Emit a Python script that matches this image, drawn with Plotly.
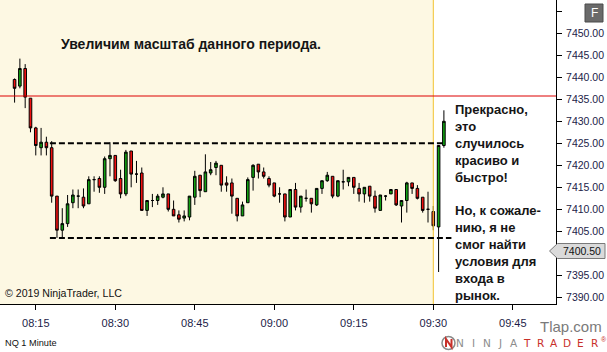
import plotly.graph_objects as go
import pandas as pd

# ---------------- data (NQ 1 Minute) ----------------
times = pd.date_range("2019-03-01 08:11", periods=82, freq="1min")

opens = [7439.5, 7438.0, 7442.0, 7435.25, 7428.5, 7424.0, 7425.25, 7424.0, 7413.0, 7405.25,
         7406.75, 7411.5, 7413.0, 7412.75, 7411.25, 7416.75, 7417.0, 7415.0, 7421.5, 7422.25,
         7417.0, 7413.5, 7423.25, 7418.0, 7418.25, 7409.75, 7412.0, 7412.0, 7412.75, 7413.5,
         7410.0, 7408.75, 7408.0, 7408.25, 7412.75, 7417.75, 7414.0, 7418.25, 7419.5, 7420.0,
         7416.0, 7416.0, 7412.5, 7408.5, 7411.5, 7417.25, 7420.25, 7418.5, 7417.0, 7416.0,
         7413.5, 7413.5, 7408.25, 7414.5, 7410.5, 7412.5, 7412.5, 7411.0, 7414.75, 7416.5,
         7417.5, 7413.0, 7416.25, 7416.25, 7417.25, 7414.75, 7413.5, 7415.25, 7413.0, 7409.75,
         7413.0, 7413.5, 7414.5, 7410.75, 7412.0, 7416.0, 7414.75, 7412.75, 7410.0, 7409.5,
         7406.0, 7424.5]
highs = [7439.75, 7444.25, 7443.0, 7435.25, 7428.75, 7428.5, 7426.5, 7425.5, 7413.0, 7410.25,
         7413.25, 7414.5, 7414.5, 7414.75, 7417.5, 7417.5, 7417.5, 7422.0, 7425.25, 7422.25,
         7419.0, 7423.5, 7423.25, 7421.0, 7419.5, 7412.0, 7413.5, 7413.5, 7415.0, 7413.5,
         7412.0, 7409.75, 7409.75, 7413.0, 7418.75, 7417.75, 7422.5, 7420.75, 7421.0, 7420.0,
         7417.5, 7417.0, 7412.5, 7411.75, 7417.25, 7420.25, 7420.25, 7419.5, 7417.5, 7416.0,
         7415.0, 7413.5, 7414.5, 7416.0, 7413.0, 7414.5, 7412.5, 7414.75, 7416.5, 7418.5,
         7417.5, 7416.5, 7419.0, 7417.25, 7417.25, 7416.0, 7415.0, 7415.25, 7414.25, 7413.25,
         7413.25, 7414.5, 7414.5, 7412.0, 7416.25, 7416.0, 7415.5, 7412.75, 7414.0, 7410.75,
         7424.5, 7432.5]
lows = [7434.25, 7437.5, 7433.0, 7427.5, 7422.25, 7422.25, 7422.25, 7411.5, 7403.5, 7403.5,
        7406.0, 7410.25, 7410.25, 7410.25, 7411.25, 7414.0, 7413.75, 7413.5, 7417.5, 7416.25,
        7412.5, 7413.0, 7415.0, 7416.0, 7409.75, 7408.5, 7410.5, 7411.0, 7412.5, 7409.5,
        7408.5, 7407.0, 7407.25, 7407.5, 7411.0, 7412.75, 7414.0, 7417.75, 7417.75, 7414.0,
        7414.0, 7409.0, 7407.25, 7408.5, 7411.5, 7414.25, 7417.0, 7417.0, 7415.0, 7412.75,
        7411.5, 7407.25, 7408.25, 7409.75, 7409.25, 7411.75, 7409.25, 7410.75, 7413.5, 7416.25,
        7412.5, 7412.75, 7414.5, 7415.25, 7413.5, 7411.75, 7411.5, 7411.75, 7409.25, 7409.75,
        7412.0, 7413.5, 7410.75, 7407.0, 7409.25, 7413.5, 7412.25, 7409.25, 7407.0, 7405.25,
        7395.75, 7424.0]
closes = [7437.5, 7442.0, 7435.5, 7428.5, 7424.5, 7425.25, 7424.0, 7413.0, 7405.25, 7406.75,
          7411.25, 7413.25, 7413.0, 7410.75, 7416.75, 7416.75, 7415.0, 7421.5, 7422.25, 7416.5,
          7413.5, 7423.0, 7418.0, 7418.0, 7409.75, 7412.0, 7412.0, 7413.0, 7413.5, 7410.0,
          7408.5, 7407.75, 7408.5, 7413.0, 7417.5, 7414.25, 7418.5, 7419.0, 7420.5, 7415.5,
          7415.5, 7413.0, 7408.5, 7411.0, 7416.75, 7420.0, 7418.5, 7417.5, 7415.5, 7413.0,
          7413.5, 7408.25, 7414.5, 7410.5, 7413.0, 7412.5, 7411.25, 7414.75, 7416.5, 7417.75,
          7413.0, 7416.5, 7416.25, 7417.25, 7415.0, 7413.5, 7415.0, 7413.0, 7410.25, 7413.25,
          7413.0, 7414.5, 7411.0, 7412.0, 7416.0, 7414.75, 7412.5, 7409.75, 7410.0, 7406.25,
          7424.5, 7430.0]

y_ticks = [7390, 7395, 7400, 7405, 7410, 7415, 7420, 7425, 7430, 7435, 7440, 7445, 7450, 7455]
y_tick_text = ["" if v in (7400, 7455) else f"{v:.2f}" for v in y_ticks]

range_high = 7425.0
range_low = 7403.5
red_level = 7435.75
last_price_label = 7400.50

title_text = "Увеличим масштаб данного периода."
side_text_1 = "Прекрасно,<br>это<br>случилось<br>красиво и<br>быстро!"
side_text_2 = "Но, к сожале-<br>нию, я не<br>смог найти<br>условия для<br>входа в<br>рынок."
copyright_text = "© 2019 NinjaTrader, LLC"
instrument_text = "NQ 1 Minute"

# ---------------- geometry helpers ----------------
W, H = 607, 352
PL, PR, PT, PB = 0, 556, 0, 304  # plot area in pixels


def px(x):
    return (x - PL) / (PR - PL)


def py(y):
    return 1 - (y - PT) / (PB - PT)


FONT = "Liberation Sans, Arial, sans-serif"
AXCOL = "#1c1c48"

fig = go.Figure()
fig.add_trace(go.Candlestick(
    x=times, open=opens, high=highs, low=lows, close=closes,
    increasing=dict(fillcolor="#12a012", line=dict(color="#000000", width=1)),
    decreasing=dict(fillcolor="#f01010", line=dict(color="#000000", width=1)),
    whiskerwidth=0, hoverinfo="skip", showlegend=False,
))

shapes = []
shapes.append(dict(type="rect", xref="paper", yref="paper", x0=px(433.3), x1=1, y0=0, y1=1,
                   fillcolor="white", line=dict(width=0), layer="below"))
shapes.append(dict(type="line", xref="x", yref="paper", x0="2019-03-01 09:30", x1="2019-03-01 09:30",
                   y0=0, y1=1, line=dict(color="#f2c230", width=1)))
shapes.append(dict(type="line", xref="paper", yref="y", x0=0, x1=1, y0=red_level, y1=red_level,
                   line=dict(color="#dd0000", width=1)))
shapes.append(dict(type="line", xref="x", yref="y", x0="2019-03-01 08:17:40", x1="2019-03-01 09:31:45",
                   y0=range_high, y1=range_high, line=dict(color="#000000", width=2, dash="6px,3px")))
shapes.append(dict(type="line", xref="x", yref="y", x0="2019-03-01 08:17:40", x1="2019-03-01 09:33:25",
                   y0=range_low, y1=range_low, line=dict(color="#000000", width=2, dash="6px,3px")))
yl = 251.0
path = (f"M {px(549.5)} {py(yl)} L {px(557.5)} {py(yl-7.5)} L {px(605)} {py(yl-7.5)} "
        f"L {px(605)} {py(yl+7.5)} L {px(557.5)} {py(yl+7.5)} Z")
shapes.append(dict(type="path", xref="paper", yref="paper", path=path,
                   fillcolor="#dadada", line=dict(color="#7a7a7a", width=1)))
shapes.append(dict(type="rect", xref="paper", yref="paper", x0=px(585), x1=px(603), y0=py(22), y1=py(4),
                   fillcolor="#6a6a6a", line=dict(color="#4a4a4a", width=1)))
shapes.append(dict(type="circle", xref="paper", yref="paper", x0=px(442), x1=px(455), y0=py(349.5), y1=py(336.5),
                   fillcolor="white", line=dict(color="#8a8a8a", width=1.5)))
shapes.append(dict(type="path", xref="paper", yref="paper",
                   path=f"M {px(446)} {py(347)} L {px(446)} {py(339)} L {px(451.5)} {py(347)} L {px(451.5)} {py(339)}",
                   line=dict(color="#c8302a", width=2)))

ann = []
ann.append(dict(xref="paper", yref="paper", x=px(59), y=py(44.5), xanchor="left", yanchor="middle",
                text=f"<b>{title_text}</b>", showarrow=False,
                font=dict(family=FONT, size=14, color="#151515")))
ann.append(dict(xref="paper", yref="paper", x=px(452.5), y=py(99.5), xanchor="left", yanchor="top",
                text=f"<b>{side_text_1}</b>", showarrow=False, align="left",
                font=dict(family=FONT, size=13, color="#151515")))
ann.append(dict(xref="paper", yref="paper", x=px(452.5), y=py(200.5), xanchor="left", yanchor="top",
                text=f"<b>{side_text_2}</b>", showarrow=False, align="left",
                font=dict(family=FONT, size=13, color="#151515")))
ann.append(dict(xref="paper", yref="paper", x=px(3), y=py(292.7), xanchor="left", yanchor="middle",
                text=copyright_text, showarrow=False, font=dict(family=FONT, size=10.6, color="#111111")))
ann.append(dict(xref="paper", yref="paper", x=px(3), y=py(343), xanchor="left", yanchor="middle",
                text=instrument_text, showarrow=False, font=dict(family=FONT, size=9.2, color="#111111")))
ann.append(dict(xref="paper", yref="paper", x=px(581.5), y=py(yl), xanchor="center", yanchor="middle",
                text=f"{last_price_label:.2f}", showarrow=False, font=dict(family=FONT, size=10.5, color="#111111")))
ann.append(dict(xref="paper", yref="paper", x=px(594), y=py(13), xanchor="center", yanchor="middle",
                text="F", showarrow=False, font=dict(family=FONT, size=12, color="white")))
ann.append(dict(xref="paper", yref="paper", x=px(537.5), y=py(326), xanchor="left", yanchor="middle",
                text="Tlap.com", showarrow=False, font=dict(family=FONT, size=15, color="#7a7a7a")))
letters = "NINJATRADER"
for k, ch in enumerate(letters):
    cx = 460 + k * 13.4
    col = "#8c8c8c" if k < 5 else "#c8302a"
    ann.append(dict(xref="paper", yref="paper", x=px(cx), y=py(343), xanchor="center", yanchor="middle",
                    text=ch, showarrow=False, font=dict(family="DejaVu Sans, sans-serif", size=10.5, color=col)))
ann.append(dict(xref="paper", yref="paper", x=px(604), y=py(339), xanchor="center", yanchor="middle",
                text="®", showarrow=False, font=dict(family=FONT, size=7, color="#c8302a")))

fig.update_layout(
    width=W, height=H,
    margin=dict(l=PL, r=W - PR, t=PT, b=H - PB),
    paper_bgcolor="white", plot_bgcolor="#fdf8e3",
    showlegend=False, hovermode=False,
    shapes=shapes, annotations=ann,
    xaxis=dict(
        type="date",
        range=["2019-03-01 08:08:15", "2019-03-01 09:53:09"],
        rangeslider=dict(visible=False),
        tickformat="%H:%M", dtick=900000, tick0="2019-03-01 08:15",
        ticks="outside", ticklen=5, tickcolor="#000000", tickwidth=1,
        showline=True, linecolor="#000000", linewidth=1,
        showgrid=False, zeroline=False, automargin=False,
        ticklabelstandoff=4,
        tickfont=dict(family=FONT, size=11, color=AXCOL),
    ),
    yaxis=dict(
        side="right",
        range=[7388.48, 7457.57],
        tickvals=y_ticks, ticktext=y_tick_text,
        ticks="outside", ticklen=5, tickcolor="#000000", tickwidth=1,
        showline=True, linecolor="#000000", linewidth=1,
        showgrid=False, zeroline=False, automargin=False,
        ticklabelstandoff=2,
        tickfont=dict(family=FONT, size=10.5, color=AXCOL),
    ),
)

fig.write_html("out.html")
